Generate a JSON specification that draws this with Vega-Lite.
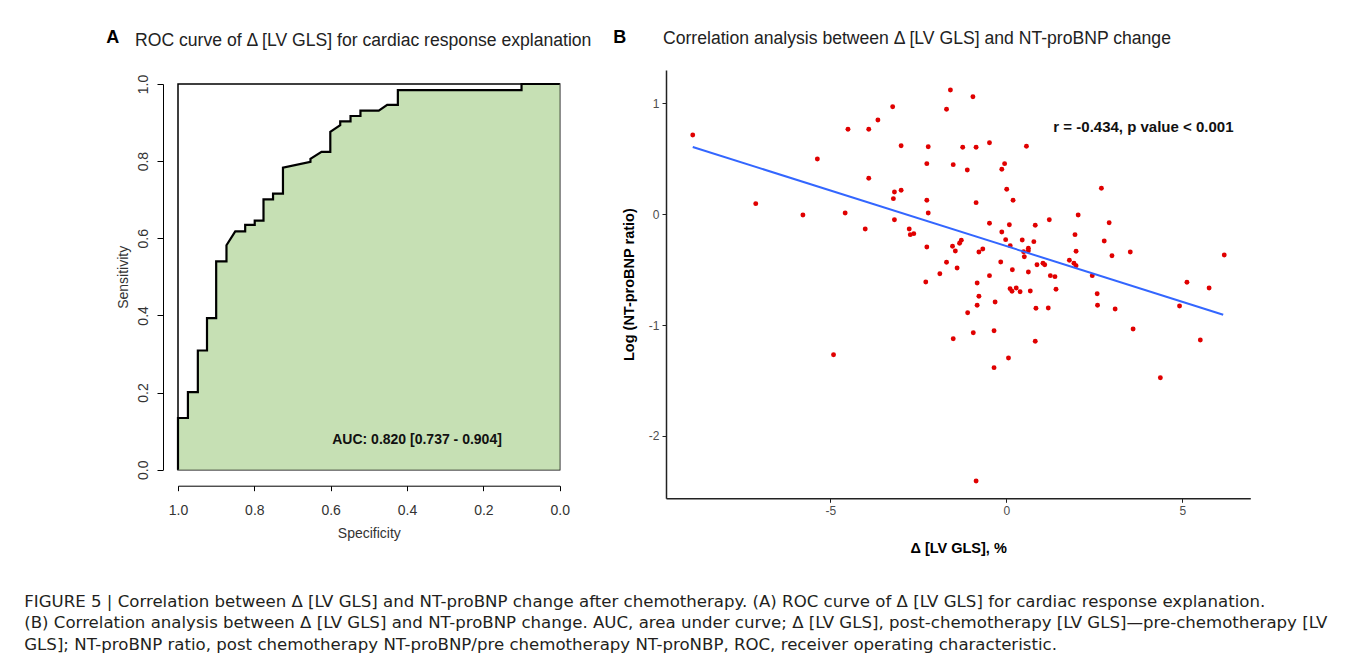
{
  "$schema": "https://vega.github.io/schema/vega-lite/v6.json",
  "background": "white",
  "padding": {"left": 24, "top": 29, "right": 0, "bottom": 0},
  "config": {"font": "Liberation Sans", "axis": {"grid": false}},
  "title": {
    "text": [
      "FIGURE 5 | Correlation between Δ [LV GLS] and NT-proBNP change after chemotherapy. (A) ROC curve of Δ [LV GLS] for cardiac response explanation.",
      "(B) Correlation analysis between Δ [LV GLS] and NT-proBNP change. AUC, area under curve; Δ [LV GLS], post-chemotherapy [LV GLS]—pre-chemotherapy [LV",
      "GLS]; NT-proBNP ratio, post chemotherapy NT-proBNP/pre chemotherapy NT-proNBP, ROC, receiver operating characteristic."
    ],
    "orient": "bottom",
    "anchor": "start",
    "frame": "bounds",
    "dx": -82,
    "offset": 39,
    "fontSize": 16.6,
    "fontWeight": "normal",
    "font": "DejaVu Sans",
    "color": "#231F20",
    "lineHeight": 21.5
  },
  "spacing": 19,
  "hconcat": [
    {
      "title": {"text": "A", "anchor": "start", "frame": "bounds", "dx": -9, "offset": -18, "fontSize": 18, "fontWeight": "bold", "color": "#000", "font": "Liberation Sans"},
      "spacing": 0,
      "vconcat": [
        {"width": 1, "height": 1, "data": {"values": []}, "mark": "point", "view": {"stroke": null}},
        {
          "width": 381.7,
          "height": 385.7,
          "view": {"stroke": "#000", "strokeWidth": 1.5},
          "title": {
            "text": "ROC curve of Δ [LV GLS] for cardiac response explanation",
            "anchor": "start", "frame": "group", "dx": -43, "offset": 25,
            "fontSize": 17.6, "fontWeight": "normal", "color": "#222", "font": "Liberation Sans"
          },
          "data": {
            "values": [
              {"i": 0, "spec": 1.0, "sens": 0.0},
              {"i": 1, "spec": 1.0, "sens": 0.134},
              {"i": 2, "spec": 0.974, "sens": 0.134},
              {"i": 3, "spec": 0.974, "sens": 0.201},
              {"i": 4, "spec": 0.948, "sens": 0.201},
              {"i": 5, "spec": 0.948, "sens": 0.309},
              {"i": 6, "spec": 0.924, "sens": 0.309},
              {"i": 7, "spec": 0.924, "sens": 0.393},
              {"i": 8, "spec": 0.9, "sens": 0.393},
              {"i": 9, "spec": 0.9, "sens": 0.54},
              {"i": 10, "spec": 0.873, "sens": 0.54},
              {"i": 11, "spec": 0.873, "sens": 0.582},
              {"i": 12, "spec": 0.85, "sens": 0.618},
              {"i": 13, "spec": 0.824, "sens": 0.618},
              {"i": 14, "spec": 0.824, "sens": 0.635},
              {"i": 15, "spec": 0.799, "sens": 0.635},
              {"i": 16, "spec": 0.799, "sens": 0.646},
              {"i": 17, "spec": 0.776, "sens": 0.646},
              {"i": 18, "spec": 0.776, "sens": 0.701},
              {"i": 19, "spec": 0.751, "sens": 0.701},
              {"i": 20, "spec": 0.751, "sens": 0.716},
              {"i": 21, "spec": 0.725, "sens": 0.716},
              {"i": 22, "spec": 0.725, "sens": 0.783},
              {"i": 23, "spec": 0.653, "sens": 0.798},
              {"i": 24, "spec": 0.653, "sens": 0.806},
              {"i": 25, "spec": 0.624, "sens": 0.824},
              {"i": 26, "spec": 0.601, "sens": 0.824},
              {"i": 27, "spec": 0.601, "sens": 0.876},
              {"i": 28, "spec": 0.575, "sens": 0.893},
              {"i": 29, "spec": 0.575, "sens": 0.903},
              {"i": 30, "spec": 0.548, "sens": 0.903},
              {"i": 31, "spec": 0.548, "sens": 0.917},
              {"i": 32, "spec": 0.522, "sens": 0.917},
              {"i": 33, "spec": 0.522, "sens": 0.931},
              {"i": 34, "spec": 0.474, "sens": 0.931},
              {"i": 35, "spec": 0.452, "sens": 0.946},
              {"i": 36, "spec": 0.424, "sens": 0.946},
              {"i": 37, "spec": 0.424, "sens": 0.984},
              {"i": 38, "spec": 0.1, "sens": 0.984},
              {"i": 39, "spec": 0.1, "sens": 1.0},
              {"i": 40, "spec": 0.0, "sens": 1.0}
            ]
          },
          "encoding": {
            "x": {
              "field": "spec", "type": "quantitative",
              "scale": {"domain": [0, 1], "reverse": true, "nice": false, "zero": false},
              "axis": {
                "title": "Specificity", "values": [0, 0.2, 0.4, 0.6, 0.8, 1], "format": ".1f",
                "offset": 16, "domainColor": "#000", "tickColor": "#000", "tickSize": 5,
                "labelFontSize": 14, "labelColor": "#333", "labelPadding": 13, "labelFlush": false,
                "titleFontSize": 14, "titleFontWeight": "normal", "titleColor": "#333", "titlePadding": 9
              }
            },
            "y": {
              "field": "sens", "type": "quantitative", "stack": null,
              "scale": {"domain": [0, 1], "nice": false, "zero": false},
              "axis": {
                "title": "Sensitivity", "values": [0, 0.2, 0.4, 0.6, 0.8, 1], "format": ".1f",
                "offset": 15, "domainColor": "#000", "tickColor": "#000", "tickSize": 6,
                "labelAngle": 270, "labelFontSize": 14, "labelColor": "#333", "labelPadding": 7, "labelFlush": false,
                "titleFontSize": 14, "titleFontWeight": "normal", "titleColor": "#333", "titlePadding": 6
              }
            }
          },
          "layer": [
            {
              "mark": {"type": "area", "fill": "#C6E0B4", "fillOpacity": 1, "interpolate": "linear"}
            },
            {
              "mark": {"type": "line", "color": "#000", "strokeWidth": 2.2},
              "encoding": {"order": {"field": "i", "type": "quantitative"}}
            },
            {
              "data": {"values": [{"spec": 0.596, "sens": 0.078, "label": "AUC: 0.820 [0.737 - 0.904]"}]},
              "mark": {"type": "text", "align": "left", "baseline": "middle", "fontSize": 14, "fontWeight": "bold", "color": "#111"},
              "encoding": {"text": {"field": "label"}}
            }
          ]
        }
      ]
    },
    {
      "title": {"text": "B", "anchor": "start", "frame": "bounds", "dx": -8, "offset": -18, "fontSize": 18, "fontWeight": "bold", "color": "#000", "font": "Liberation Sans"},
      "spacing": 0,
      "vconcat": [
        {"width": 1, "height": 1, "data": {"values": []}, "mark": "point", "view": {"stroke": null}},
        {
          "width": 584.3,
          "height": 428.3,
          "view": {"stroke": null},
          "title": {
            "text": "Correlation analysis between Δ [LV GLS] and NT-proBNP change",
            "anchor": "start", "frame": "group", "dx": -3, "offset": 22,
            "fontSize": 17.6, "fontWeight": "normal", "color": "#222", "font": "Liberation Sans"
          },
          "encoding": {
            "x": {
              "field": "d", "type": "quantitative",
              "scale": {"domain": [-9.67, 6.93], "nice": false, "zero": false},
              "axis": {
                "title": "Δ [LV GLS], %", "values": [-5, 0, 5], "labelExpr": "toString(datum.value)",
                "domainColor": "#222", "domainWidth": 1.5, "tickColor": "#222", "tickSize": 4,
                "labelFontSize": 12, "labelColor": "#4D4D4D", "labelPadding": 3,
                "titleFontSize": 14.5, "titleFontWeight": "bold", "titleColor": "#000", "titlePadding": 25
              }
            },
            "y": {
              "field": "l", "type": "quantitative",
              "scale": {"domain": [-2.563, 1.302], "nice": false, "zero": false},
              "axis": {
                "title": "Log (NT-proBNP ratio)", "values": [-2, -1, 0, 1], "labelExpr": "toString(datum.value)",
                "domainColor": "#222", "domainWidth": 1.5, "tickColor": "#222", "tickSize": 4,
                "labelFontSize": 12, "labelColor": "#4D4D4D", "labelPadding": 3,
                "titleFontSize": 14.5, "titleFontWeight": "bold", "titleColor": "#000", "titlePadding": 12
              }
            }
          },
          "layer": [
            {
              "data": {
                "values": [
                  {"d": -8.91, "l": 0.716}, {"d": -1.59, "l": 1.122}, {"d": -0.95, "l": 1.061}, {"d": -3.23, "l": 0.971},
                  {"d": -1.7, "l": 0.948}, {"d": -3.65, "l": 0.851}, {"d": -4.5, "l": 0.767}, {"d": -3.91, "l": 0.767},
                  {"d": -2.99, "l": 0.619}, {"d": -2.22, "l": 0.61}, {"d": -1.24, "l": 0.605}, {"d": -0.86, "l": 0.605},
                  {"d": -0.48, "l": 0.646}, {"d": -5.37, "l": 0.499}, {"d": -2.26, "l": 0.457}, {"d": -1.51, "l": 0.448},
                  {"d": -1.11, "l": 0.4}, {"d": -0.05, "l": 0.457}, {"d": -0.13, "l": 0.406}, {"d": -3.91, "l": 0.325},
                  {"d": 0.01, "l": 0.226}, {"d": -3.18, "l": 0.201}, {"d": -2.99, "l": 0.217}, {"d": -3.21, "l": 0.141},
                  {"d": -2.26, "l": 0.126}, {"d": -0.86, "l": 0.105}, {"d": -7.12, "l": 0.096}, {"d": -5.78, "l": -0.006},
                  {"d": -4.58, "l": 0.012}, {"d": -2.22, "l": 0.012}, {"d": -3.18, "l": -0.049}, {"d": -0.48, "l": -0.081},
                  {"d": 0.085, "l": -0.094}, {"d": -4.01, "l": -0.133}, {"d": -2.76, "l": -0.133}, {"d": -2.73, "l": -0.184},
                  {"d": -2.63, "l": -0.175}, {"d": -0.13, "l": -0.16}, {"d": -0.02, "l": -0.229}, {"d": -1.28, "l": -0.235},
                  {"d": -1.33, "l": -0.262}, {"d": -2.26, "l": -0.295}, {"d": -1.53, "l": -0.289}, {"d": -1.45, "l": -0.331},
                  {"d": -0.67, "l": -0.313}, {"d": -0.78, "l": -0.34}, {"d": -1.7, "l": -0.433}, {"d": -1.4, "l": -0.485},
                  {"d": -0.16, "l": -0.431}, {"d": -1.89, "l": -0.536}, {"d": -2.29, "l": -0.611}, {"d": -0.83, "l": -0.62},
                  {"d": -0.48, "l": -0.554}, {"d": -0.78, "l": -0.74}, {"d": -0.83, "l": -0.821}, {"d": -0.32, "l": -0.792},
                  {"d": -1.1, "l": -0.888}, {"d": -0.35, "l": -1.051}, {"d": -0.94, "l": -1.069}, {"d": -1.51, "l": -1.123},
                  {"d": -4.91, "l": -1.267}, {"d": -0.35, "l": -1.384}, {"d": -0.86, "l": -2.407}, {"d": 0.57, "l": 0.614},
                  {"d": 0.19, "l": 0.126}, {"d": 2.7, "l": 0.235}, {"d": 2.04, "l": -0.006}, {"d": 1.22, "l": -0.049},
                  {"d": 2.92, "l": -0.076}, {"d": 0.82, "l": -0.099}, {"d": 1.95, "l": -0.184}, {"d": 0.45, "l": -0.232},
                  {"d": 0.78, "l": -0.247}, {"d": 2.78, "l": -0.241}, {"d": 0.11, "l": -0.283}, {"d": 0.625, "l": -0.307},
                  {"d": 0.625, "l": -0.329}, {"d": 0.49, "l": -0.338}, {"d": 1.98, "l": -0.334}, {"d": 3.52, "l": -0.34},
                  {"d": 3.0, "l": -0.374}, {"d": 6.19, "l": -0.367}, {"d": 0.51, "l": -0.383}, {"d": 0.87, "l": -0.455},
                  {"d": 1.04, "l": -0.442}, {"d": 1.09, "l": -0.455}, {"d": 1.79, "l": -0.415}, {"d": 1.92, "l": -0.442},
                  {"d": 1.98, "l": -0.464}, {"d": 0.17, "l": -0.5}, {"d": 0.625, "l": -0.521}, {"d": 1.25, "l": -0.554},
                  {"d": 1.38, "l": -0.563}, {"d": 2.44, "l": -0.554}, {"d": 5.13, "l": -0.614}, {"d": 5.76, "l": -0.665},
                  {"d": 0.105, "l": -0.671}, {"d": 0.28, "l": -0.665}, {"d": 0.16, "l": -0.695}, {"d": 0.39, "l": -0.699},
                  {"d": 0.68, "l": -0.692}, {"d": 1.41, "l": -0.677}, {"d": 2.58, "l": -0.717}, {"d": 2.59, "l": -0.821},
                  {"d": 3.09, "l": -0.855}, {"d": 4.92, "l": -0.828}, {"d": 0.84, "l": -0.848}, {"d": 1.19, "l": -0.846},
                  {"d": 3.6, "l": -1.035}, {"d": 5.51, "l": -1.134}, {"d": 0.82, "l": -1.146}, {"d": 0.06, "l": -1.297},
                  {"d": 4.375, "l": -1.475}
                ]
              },
              "mark": {"type": "circle", "color": "#E00000", "size": 24, "opacity": 1}
            },
            {
              "data": {"values": [{"d": -8.91, "l": 0.607}, {"d": 6.16, "l": -0.906}]},
              "mark": {"type": "line", "color": "#3366FF", "strokeWidth": 2}
            },
            {
              "data": {"values": [{"d": 1.335, "l": 0.79, "label": "r = -0.434, p value < 0.001"}]},
              "mark": {"type": "text", "align": "left", "baseline": "middle", "fontSize": 15, "fontWeight": "bold", "color": "#111"},
              "encoding": {"text": {"field": "label"}}
            }
          ]
        }
      ]
    }
  ]
}
